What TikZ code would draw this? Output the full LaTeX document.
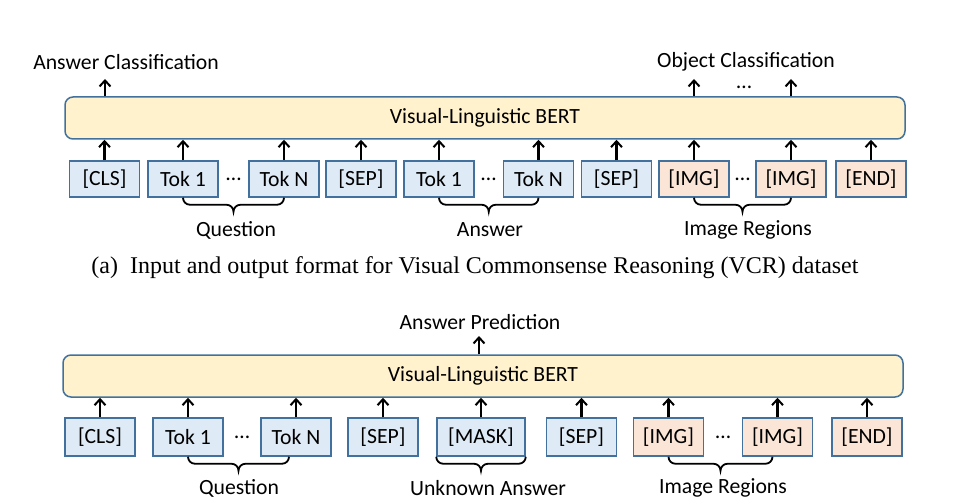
\documentclass[tikz,border=0pt]{standalone}
\usepackage{fontspec}
\setmainfont{Carlito}
\newfontfamily\capfont{Liberation Serif}
\usetikzlibrary{arrows.meta,calc}
\definecolor{tokblue}{HTML}{DEEBF7}
\definecolor{tokorange}{HTML}{FBE5D6}
\definecolor{bertyellow}{HTML}{FFF2CC}
\definecolor{edgeblue}{HTML}{41719C}
\newcommand{\curly}[3]{\draw[brc] (#1) to[out=-90,in=180] ++(#3,#3) -- ($(#1)!0.5!(#2)+(-#3,#3)$) to[out=0,in=90] ++(#3,#3) to[out=90,in=180] ++(#3,-#3) -- ($(#2)+(-#3,#3)$) to[out=0,in=-90] (#2);}
\begin{document}
\begin{tikzpicture}[x=1pt,y=-1pt,
  txt/.style={font=\fontsize{21.7}{24}\selectfont, inner sep=0pt},
  tok/.style={txt, draw=edgeblue, line width=1.5pt, fill=tokblue, minimum width=70pt, minimum height=#1},
  tok/.default=36pt,
  img/.style={tok=#1, fill=tokorange},
  img/.default=36pt,
  bert/.style={txt, draw=edgeblue, line width=1.5pt, fill=bertyellow, rounded corners=8pt, minimum height=42pt},
  arr/.style={line width=2.2pt, -{Straight Barb[length=6pt,width=11pt,line width=2pt]}},
  brc/.style={line width=1.8pt},
  lbl/.style={txt},
  dots/.style={txt}
]
\useasboundingbox (0,0) rectangle (953,500);

% ---------- Panel (a) ----------
\node[bert, minimum width=840pt] (bert1) at (485,118) {Visual-Linguistic BERT};
\node[tok] (cls1) at (104.5,179) {[CLS]};
\node[tok] (qa1) at (183,179) {Tok 1};
\node[tok] (qn1) at (284,179) {Tok N};
\node[tok] (sepa1) at (361,179) {[SEP]};
\node[tok] (aa1) at (439,179) {Tok 1};
\node[tok] (an1) at (538.5,179) {Tok N};
\node[tok] (sepb1) at (616.5,179) {[SEP]};
\node[img] (imga1) at (694,179) {[IMG]};
\node[img] (imgb1) at (791,179) {[IMG]};
\node[img] (end1) at (871,179) {[END]};
\node[dots] (d1) at (233.5,179) {…};
\node[dots] (d2) at (488.5,179) {…};
\node[dots] (d3) at (742.5,179) {…};

\foreach \n in {cls1,qa1,qn1,sepa1,aa1,an1,sepb1,imga1,imgb1,end1}
  \draw[arr] (\n.north) -- (\n.north |- bert1.south);

\coordinate (ac) at (105,79);
\coordinate (oc1) at (694,79);
\coordinate (oc2) at (791,79);
\draw[arr] (ac |- bert1.north) -- (ac);
\draw[arr] (oc1 |- bert1.north) -- (oc1);
\draw[arr] (oc2 |- bert1.north) -- (oc2);
\node[lbl] (acl) at (126,62) {Answer Classification};
\node[lbl] (ocl) at (746,62) {Object Classification};
\node[dots] (d4) at (744,87) {…};

\curly{qa1.south}{qn1.south}{7}
\curly{aa1.south}{an1.south}{7}
\curly{imga1.south}{imgb1.south}{7}
\node[lbl] (ql1) at (236,230) {Question};
\node[lbl] (al1) at (490,230) {Answer};
\node[lbl] (il1) at (748,230) {Image Regions};

\node[inner sep=0pt, font=\capfont\fontsize{24}{26}\selectfont] (cap) at (475,268) {(a)\ \ Input and output format for Visual Commonsense Reasoning (VCR) dataset};

% ---------- Panel (b) ----------
\node[bert, minimum width=840pt] (bert2) at (483,376) {Visual-Linguistic BERT};
\node[tok=38pt] (cls2) at (100,437) {[CLS]};
\node[tok=38pt] (qa2) at (188,437) {Tok 1};
\node[tok=38pt] (qn2) at (296,437) {Tok N};
\node[tok=38pt] (sepa2) at (383,437) {[SEP]};
\node[tok=38pt, minimum width=88pt] (mask2) at (481,437) {[MASK]};
\node[tok=38pt] (sepb2) at (581.5,437) {[SEP]};
\node[img=38pt] (imga2) at (668.5,437) {[IMG]};
\node[img=38pt] (imgb2) at (777.5,437) {[IMG]};
\node[img=38pt] (end2) at (867,437) {[END]};
\node[dots] (d5) at (242,437) {…};
\node[dots] (d6) at (723,437) {…};

\foreach \n in {cls2,qa2,qn2,sepa2,mask2,sepb2,imga2,imgb2,end2}
  \draw[arr] (\n.north) -- (\n.north |- bert2.south);

\coordinate (ap) at (479,336);
\draw[arr] (ap |- bert2.north) -- (ap);
\node[lbl] (apl) at (480,322) {Answer Prediction};

\curly{qa2.south}{$(qn2.south)+(-7,0)$}{7}
\curly{mask2.south west}{mask2.south east}{7}
\curly{imga2.south}{$(imgb2.south)+(-5,0)$}{7}
\node[lbl] (ql2) at (239,488) {Question};
\node[lbl] (ul2) at (488,488) {Unknown Answer};
\node[lbl] (il2) at (723,488) {Image Regions};
\end{tikzpicture}
\end{document}
